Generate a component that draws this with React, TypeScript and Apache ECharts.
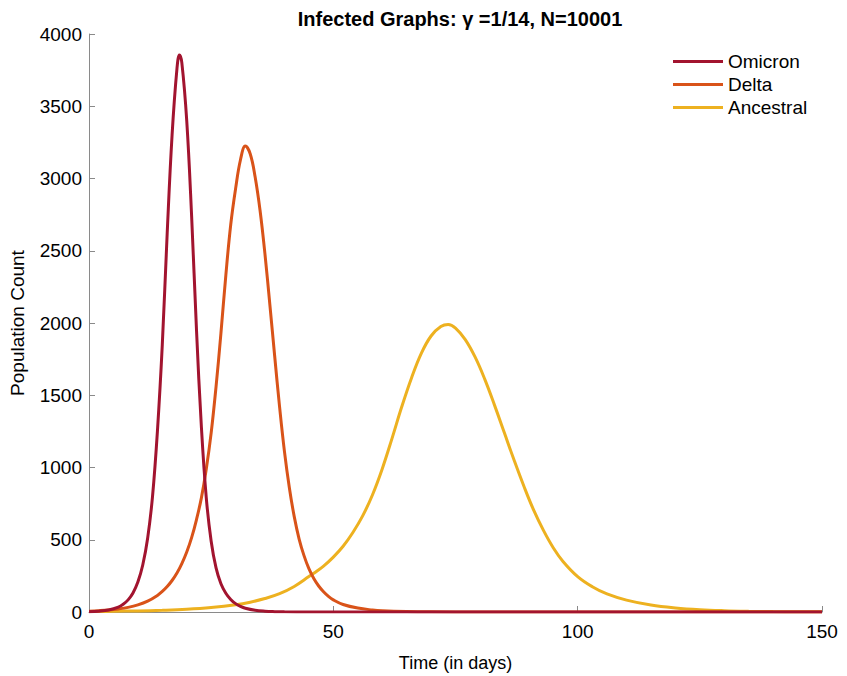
import React, { useEffect, useRef } from "react";
import * as echarts from "echarts";

const titleText = "Infected Graphs: γ =1/14, N=10001";
const xAxisName = "Time (in days)";
const yAxisName = "Population Count";
const seriesNames = ["Omicron", "Delta", "Ancestral"];
const seriesColors = ["#A2142F", "#D95319", "#EDB120"];

const omicronDays = [0, 2, 4, 6, 7, 8, 9, 10, 11, 12, 13, 14, 15, 16, 17, 18, 18.5, 19, 20, 21, 22, 23, 24, 25, 26, 27, 28, 29, 30, 31, 32, 34, 36, 38, 40, 45, 50, 150];
const omicronValues = [2.5, 6, 14, 34, 54, 84, 132, 207, 325, 510, 800, 1250, 1850, 2620, 3300, 3760, 3855, 3800, 3400, 2740, 1950, 1280, 790, 490, 305, 195, 130, 87, 58, 39, 26, 12, 5.5, 2.5, 1, 0, 0, 0];

const deltaDays = [0, 2, 4, 6, 8, 10, 12, 14, 15, 16, 17, 18, 19, 20, 21, 22, 23, 24, 25, 26, 27, 28, 29, 30, 31, 32, 33, 34, 35, 36, 37, 38, 39, 40, 41, 42, 43, 44, 45, 46, 47, 48, 49, 50, 52, 55, 58, 60, 65, 70, 80, 90, 150];
const deltaValues = [6, 9, 13.5, 21, 32, 49, 75, 115, 142, 176, 218, 270, 335, 415, 515, 640, 790, 990, 1240, 1560, 1930, 2330, 2680, 2930, 3130, 3225, 3170, 3010, 2780, 2480, 2130, 1770, 1420, 1110, 860, 660, 505, 390, 300, 232, 180, 140, 108, 84, 52, 27, 14, 9, 3.5, 1.2, 0, 0, 0];

const ancestralDays = [0, 5, 10, 15, 20, 25, 30, 33, 36, 39, 42, 45, 46, 48, 50, 52, 54, 56, 58, 60, 62, 64, 66, 68, 70, 72, 73.5, 75, 77, 79, 81, 83, 85, 87, 89, 91, 93, 95, 97, 100, 103, 106, 110, 115, 120, 125, 130, 135, 140, 145, 150];
const ancestralValues = [3, 5, 7.5, 12, 19, 31, 50, 68, 93, 127, 177, 245, 268, 318, 380, 455, 550, 665, 810, 990, 1200, 1420, 1620, 1790, 1910, 1975, 1990, 1965, 1885, 1765, 1610, 1430, 1240, 1050, 870, 705, 565, 445, 350, 245, 175, 125, 82, 48, 28, 16, 9.3, 5.4, 3.1, 1.8, 1];

const xTicks = { min: 0, max: 150, interval: 50 };
const yTicks = { min: 0, max: 4000, interval: 500 };

const zip = (d: number[], v: number[]) => d.map((x, i) => [x, v[i]]);

export default function App() {
  const ref = useRef<HTMLDivElement>(null);
  useEffect(() => {
    if (!ref.current) return;
    const chart = echarts.init(ref.current, null, { renderer: "svg" });
    const font = "Liberation Sans, Arial, sans-serif";
    const axisGray = "#8a8a8a";
    const dataSets = [
      zip(omicronDays, omicronValues),
      zip(deltaDays, deltaValues),
      zip(ancestralDays, ancestralValues),
    ];
    chart.setOption({
      animation: false,
      backgroundColor: "#ffffff",
      title: {
        text: titleText,
        left: 455,
        top: 4,
        textAlign: "center",
        textStyle: { fontFamily: font, fontSize: 20, fontWeight: "bold", color: "#000" },
      },
      legend: {
        orient: "vertical",
        left: 668,
        top: 47,
        icon: "rect",
        itemWidth: 50,
        itemHeight: 3,
        itemGap: 4,
        data: seriesNames,
        textStyle: { fontFamily: font, fontSize: 19, color: "#000" },
      },
      grid: { left: 89, right: 25, top: 34, bottom: 64, containLabel: false, outerBoundsMode: "none" },
      xAxis: {
        type: "value",
        min: xTicks.min,
        max: xTicks.max,
        interval: xTicks.interval,
        name: xAxisName,
        nameLocation: "middle",
        nameGap: 42,
        nameTextStyle: { fontFamily: font, fontSize: 18, color: "#000" },
        axisLine: { show: true, lineStyle: { color: axisGray, width: 1 } },
        axisTick: { show: true, inside: true, length: 6, lineStyle: { color: axisGray } },
        axisLabel: { fontFamily: font, fontSize: 19, color: "#000", margin: 10, formatter: (v: number) => String(v) },
        splitLine: { show: false },
      },
      yAxis: {
        type: "value",
        min: yTicks.min,
        max: yTicks.max,
        interval: yTicks.interval,
        name: yAxisName,
        nameLocation: "middle",
        nameGap: 62,
        nameTextStyle: { fontFamily: font, fontSize: 19, color: "#000" },
        axisLine: { show: true, lineStyle: { color: axisGray, width: 1 } },
        axisTick: { show: true, inside: true, length: 6, lineStyle: { color: axisGray } },
        axisLabel: { fontFamily: font, fontSize: 19, color: "#000", margin: 7, formatter: (v: number) => String(v) },
        splitLine: { show: false },
      },
      series: seriesNames.map((name, i) => ({
        name,
        type: "line",
        data: dataSets[i],
        symbol: "none",
        smooth: 0.4,
        lineStyle: { color: seriesColors[i], width: 3 },
        itemStyle: { color: seriesColors[i] },
        z: 3 - i,
      })),
    });
    return () => chart.dispose();
  }, []);
  return (
    <div
      ref={ref}
      style={{ position: "fixed", left: 0, top: 0, width: 847, height: 676, background: "#fff" }}
    />
  );
}
